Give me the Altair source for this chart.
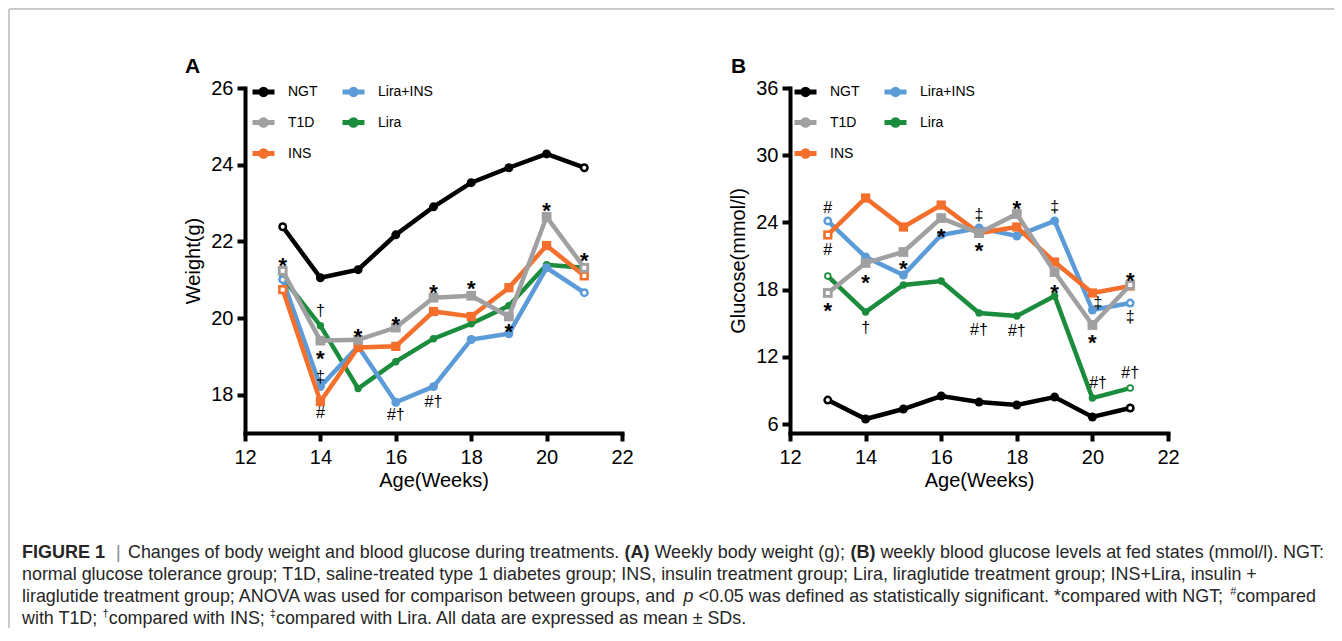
import altair as alt
import pandas as pd

# ---------------- data ----------------
weeks = [13, 14, 15, 16, 17, 18, 19, 20, 21]

weight_ngt = [22.38, 21.05, 21.26, 22.17, 22.90, 23.53, 23.92, 24.28, 23.92]
weight_t1d = [21.23, 19.41, 19.43, 19.75, 20.53, 20.58, 20.04, 22.64, 21.31]
weight_ins = [20.74, 17.82, 19.23, 19.26, 20.17, 20.04, 20.79, 21.89, 21.10]
weight_lira_ins = [21.00, 18.21, 19.26, 17.80, 18.21, 19.44, 19.59, 21.31, 20.66]
weight_lira = [21.05, 19.80, 18.16, 18.86, 19.46, 19.85, 20.32, 21.39, 21.31]

glucose_ngt = [8.14, 6.45, 7.34, 8.50, 7.96, 7.70, 8.41, 6.63, 7.43]
glucose_t1d = [17.70, 20.38, 21.36, 24.39, 23.05, 24.75, 19.57, 14.84, 18.41]
glucose_ins = [22.88, 26.18, 23.59, 25.55, 23.05, 23.59, 20.46, 17.70, 18.32]
glucose_lira_ins = [24.13, 20.91, 19.30, 22.88, 23.50, 22.79, 24.13, 16.18, 16.80]
glucose_lira = [19.21, 16.00, 18.41, 18.77, 15.91, 15.64, 17.43, 8.32, 9.21]

weight_note_week = [13, 14, 14, 14, 14, 15, 16, 16, 17, 17, 18, 19, 20, 21]
weight_note_value = [21.52, 20.17, 19.10, 18.45, 17.51, 19.67, 19.98, 17.46,
                     20.82, 17.82, 20.92, 19.80, 22.95, 21.65]
weight_note_text = ["*", "†", "*", "‡", "#", "*", "*", "#†", "*", "#†", "*", "*", "*", "*"]

glucose_note_week = [13, 13, 13, 14, 14, 15, 16, 17, 17, 17, 18, 18, 19, 19,
                     20.15, 20, 20.15, 21, 21, 21]
glucose_note_value = [25.29, 21.54, 16.62, 19.12, 14.57, 20.37, 23.23, 24.66, 21.98,
                      14.39, 25.73, 14.30, 25.37, 18.23, 16.80, 13.77, 9.66,
                      19.30, 15.55, 10.55]
glucose_note_text = ["#", "#", "*", "*", "†", "*", "*", "‡", "*", "#†", "*", "#†",
                     "‡", "*", "‡", "*", "#†", "*", "‡", "#†"]

legend_order = ["NGT", "T1D", "INS", "Lira+INS", "Lira"]
legend_colors = ["#000000", "#a0a0a2", "#f36f2b", "#5b9bd8", "#1a8c3c"]
draw_order = ["Lira", "Lira+INS", "INS", "T1D", "NGT"]
open_weeks = [13, 21]

x_ticks = [12, 14, 16, 18, 20, 22]
weight_ticks = [18, 20, 22, 24, 26]
glucose_ticks = [6, 12, 18, 24, 30, 36]

caption_lines = [
    [("FIGURE 1", "bold", 14), ("|", "bar", 108),
     ("Changes of body weight and blood glucose during treatments. ", "reg", 120),
     ("(A)", "bold", None), (" Weekly body weight (g); ", "reg", None),
     ("(B)", "bold", None),
     (" weekly blood glucose levels at fed states (mmol/l). NGT:", "reg", None)],
    [("normal glucose tolerance group; T1D, saline-treated type 1 diabetes group; INS, "
      "insulin treatment group; Lira, liraglutide treatment group; INS+Lira, insulin +", "reg", 14)],
    [("liraglutide treatment group; ANOVA was used for comparison between groups, and ", "reg", 14),
     ("p", "ital", None),
     (" <0.05 was defined as statistically significant. *compared with NGT; ", "reg", None),
     ("#", "sup", None), ("compared", "reg", None)],
    [("with T1D; ", "reg", 14), ("†", "sup", None), ("compared with INS; ", "reg", None),
     ("‡", "sup", None),
     ("compared with Lira. All data are expressed as mean ± SDs.", "reg", None)],
]
caption_baselines = [550, 572, 594, 616]

# ---------------- styling ----------------
FONT = "Liberation Sans"
W, H = 1326, 620
Y_TOP, Y_BOTTOM = 80, 425

color_of = dict(zip(legend_order, legend_colors))
marker_shape = {"NGT": "circle", "T1D": "square", "INS": "square",
                "Lira+INS": "circle", "Lira": "circle"}
marker_size = {"NGT": 80, "T1D": 95, "INS": 85, "Lira+INS": 80, "Lira": 55}
LEGEND_SYMBOL = "M-1,0L1,0M0.25,0A0.25,0.25,0,1,1,-0.25,0A0.25,0.25,0,1,1,0.25,0"


def long_df(series):
    rows = []
    for g, vals in series.items():
        for w, v in zip(weeks, vals):
            rows.append({"group": g, "week": w, "value": v})
    return pd.DataFrame(rows)


def panel(series, x_range, y_domain, y_values, y_title, legend_x, notes):
    df = long_df(series)
    xs = alt.Scale(domain=[12, 22], range=x_range, nice=False, zero=False)
    ys = alt.Scale(domain=y_domain, range=[Y_BOTTOM, Y_TOP], nice=False, zero=False)
    xa = alt.Axis(orient="bottom", offset=Y_BOTTOM - H, values=x_ticks, title="Age(Weeks)",
                  labelPadding=6, titlePadding=3, labelFlush=False, labelOverlap=False)
    ya = alt.Axis(orient="left", offset=-x_range[0], values=y_values, title=y_title,
                  labelPadding=4, titlePadding=7, labelOverlap=False)
    X = alt.X("week:Q", scale=xs, axis=xa)
    Y = alt.Y("value:Q", scale=ys, axis=ya)
    cs = alt.Scale(domain=legend_order, range=legend_colors)
    leg = alt.Legend(orient="none", legendX=legend_x, legendY=70, columns=2, title=None,
                     symbolType=LEGEND_SYMBOL, symbolSize=484, symbolStrokeWidth=5,
                     labelFont=FONT, labelFontSize=14, labelColor="black",
                     labelOffset=11, rowPadding=4, columnPadding=14)
    layers = []
    for g in draw_order:
        base = alt.Chart(df).transform_filter(alt.datum.group == g)
        layers.append(base.mark_line(strokeWidth=4.5).encode(
            x=X, y=Y, color=alt.Color("group:N", scale=cs, legend=leg)))
        layers.append(base.mark_point(filled=True, opacity=1, shape=marker_shape[g],
                                      size=marker_size[g], color=color_of[g]).encode(x=X, y=Y))
        layers.append(base.transform_filter(
            alt.FieldOneOfPredicate(field="week", oneOf=open_weeks)).mark_point(
            filled=True, opacity=1, shape=marker_shape[g], size=16, color="white").encode(x=X, y=Y))
    nd = pd.DataFrame({"week": notes[0], "value": notes[1], "label": notes[2]})
    stars = alt.Chart(nd).transform_filter(alt.datum.label == "*").mark_text(
        fontSize=22, fontWeight="bold", dy=6, font=FONT, color="black").encode(
        x=X, y=Y, text="label:N")
    others = alt.Chart(nd).transform_filter(alt.datum.label != "*").mark_text(
        fontSize=16, font=FONT, color="black").encode(x=X, y=Y, text="label:N")
    layers += [stars, others]
    return alt.layer(*layers)


panelA = panel({"NGT": weight_ngt, "T1D": weight_t1d, "INS": weight_ins,
                "Lira+INS": weight_lira_ins, "Lira": weight_lira},
               [237, 614], [17, 26], weight_ticks, "Weight(g)", 242,
               (weight_note_week, weight_note_value, weight_note_text))
panelB = panel({"NGT": glucose_ngt, "T1D": glucose_t1d, "INS": glucose_ins,
                "Lira+INS": glucose_lira_ins, "Lira": glucose_lira},
               [782, 1160], [5.2, 36], glucose_ticks, "Glucose(mmol/l)", 784,
               (glucose_note_week, glucose_note_value, glucose_note_text))

# ---------------- decorations: frame, panel letters, caption ----------------
one = pd.DataFrame({"k": [0]})
deco = [
    alt.Chart(one).mark_rule(color="#b8b8b8", strokeWidth=1.5).encode(
        x=alt.value(1), y=alt.value(1), y2=alt.value(H + 50)),
    alt.Chart(one).mark_rule(color="#b8b8b8", strokeWidth=1.5).encode(
        x=alt.value(1), x2=alt.value(W + 50), y=alt.value(1)),
]
for letter, lx in [("A", 177), ("B", 723)]:
    deco.append(alt.Chart(pd.DataFrame({"t": [letter]})).mark_text(
        font=FONT, fontSize=21, fontWeight="bold", align="left", baseline="alphabetic",
        color="black").encode(x=alt.value(lx), y=alt.value(65), text="t:N"))

ARIAL = {' ': 278, 'a': 556, 'b': 556, 'c': 500, 'd': 556, 'e': 556, 'f': 278, 'g': 556,
         'h': 556, 'i': 222, 'j': 222, 'k': 500, 'l': 222, 'm': 833, 'n': 556, 'o': 556,
         'p': 556, 'q': 556, 'r': 333, 's': 500, 't': 278, 'u': 556, 'v': 500, 'w': 722,
         'x': 500, 'y': 500, 'z': 500, 'A': 667, 'B': 667, 'C': 722, 'D': 722, 'E': 667,
         'F': 611, 'G': 778, 'H': 722, 'I': 278, 'J': 500, 'K': 667, 'L': 556, 'M': 833,
         'N': 722, 'O': 778, 'P': 667, 'Q': 778, 'R': 722, 'S': 667, 'T': 611, 'U': 722,
         'V': 667, 'W': 944, 'X': 667, 'Y': 667, 'Z': 611, '.': 278, ',': 278, ';': 278,
         ':': 278, '(': 333, ')': 333, '|': 260, '+': 584, '-': 333, '<': 584, '*': 389,
         '#': 556, '†': 556, '‡': 556, '±': 584, '/': 278}
ARIAL_BOLD = dict(ARIAL)
ARIAL_BOLD.update({'A': 722, 'B': 722, 'F': 611, 'I': 278, 'G': 778, 'U': 722, 'R': 722,
                   'E': 667, '(': 333, ')': 333})
CAP = 17.9
STYLE = {
    "reg": dict(fontSize=CAP, fontWeight="normal", fontStyle="normal", dy=0, tab=ARIAL, color="#262626"),
    "bar": dict(fontSize=CAP, fontWeight="normal", fontStyle="normal", dy=0, tab=ARIAL, color="#888888"),
    "ital": dict(fontSize=CAP, fontWeight="normal", fontStyle="italic", dy=0, tab=ARIAL, color="#262626"),
    "bold": dict(fontSize=18, fontWeight="bold", fontStyle="normal", dy=0, tab=ARIAL_BOLD, color="#262626"),
    "sup": dict(fontSize=11, fontWeight="normal", fontStyle="normal", dy=-7, tab=ARIAL, color="#262626"),
}


def adv(s, st):
    return sum(st["tab"].get(c, 556) for c in s) / 1000 * st["fontSize"]


for segs, base_y in zip(caption_lines, caption_baselines):
    cursor = 0
    for text, kind, start in segs:
        st = STYLE[kind]
        if start is not None:
            cursor = start
        lead = text[:len(text) - len(text.lstrip(" "))]
        xpos = cursor + adv(lead, st)
        cursor += adv(text, st)
        deco.append(alt.Chart(pd.DataFrame({"t": [text.strip()]})).mark_text(
            font=FONT, fontSize=st["fontSize"], fontWeight=st["fontWeight"],
            fontStyle=st["fontStyle"], align="left", baseline="alphabetic",
            color=st["color"], dy=st["dy"]).encode(
            x=alt.value(xpos), y=alt.value(base_y), text="t:N"))

chart = alt.layer(panelA, panelB, *deco).resolve_scale(
    x="independent", y="independent", color="independent"
).resolve_axis(x="independent", y="independent").resolve_legend(
    color="independent"
).properties(
    width=W, height=H, autosize=alt.AutoSizeParams(type="none"), padding=0
).configure_view(stroke=None).configure_axis(
    domainColor="black", domainWidth=4, domainCap="square", tickColor="black",
    tickWidth=4, tickSize=8, labelFont=FONT, labelFontSize=20, labelColor="black",
    titleFont=FONT, titleFontSize=20, titleFontWeight="normal", titleColor="black",
    grid=False
)

chart.save("out.html", embed_options={"renderer": "svg", "actions": False})
